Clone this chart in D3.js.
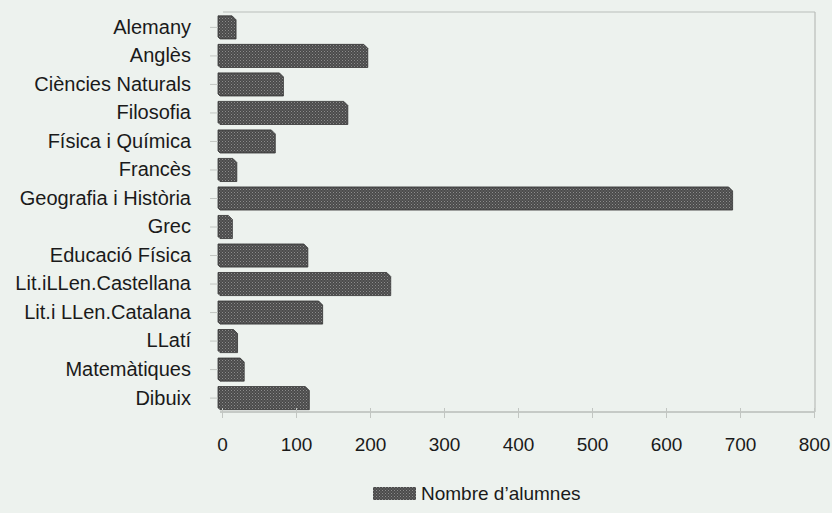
<!DOCTYPE html>
<html>
<head>
<meta charset="utf-8">
<script src="https://cdn.jsdelivr.net/npm/d3@7"></script>
<style>
  body { margin: 0; background: #edf2ee; }
  svg { display: block; }
  svg text { font-family: "Liberation Sans", Arial, Helvetica, "DejaVu Sans", sans-serif !important; fill: #1a1a1a; }
</style>
</head>
<body>
<script>
// subjects and number of students
var subjects = ["Alemany", "Anglès", "Ciències Naturals", "Filosofia", "Física i Química",
  "Francès", "Geografia i Història", "Grec", "Educació Física", "Lit.iLLen.Castellana",
  "Lit.i LLen.Catalana", "LLatí", "Matemàtiques", "Dibuix"];
var alumnes = [19, 197, 83, 170, 72, 20, 690, 14, 116, 228, 136, 21, 30, 118];
var xTicks = [0, 100, 200, 300, 400, 500, 600, 700, 800];
var legendLabel = "Nombre d\u2019alumnes";

var width = 832, height = 513;
var margin = { left: 222, right: 18, top: 13, bottom: 101 };

var svg = d3.select("body").append("svg")
  .attr("width", width)
  .attr("height", height);

// dotted dark fill like the printed bars
var defs = svg.append("defs");
var pat = defs.append("pattern")
  .attr("id", "dots")
  .attr("width", 3).attr("height", 3)
  .attr("patternUnits", "userSpaceOnUse");
pat.append("rect").attr("width", 3).attr("height", 3).attr("fill", "#4b4b4b");
pat.append("rect").attr("width", 1).attr("height", 1).attr("fill", "#8c8c8c");
pat.append("rect").attr("x", 1.5).attr("y", 1.5).attr("width", 1).attr("height", 1).attr("fill", "#7a7a7a");

var x = d3.scaleLinear()
  .domain([0, 800])
  .range([margin.left, width - margin.right]);

var y = d3.scaleBand()
  .domain(subjects)
  .range([margin.top, height - margin.bottom + 0.5])
  .paddingInner(0.19)
  .paddingOuter(0.1);

// frame: top and right lines
svg.append("line")
  .attr("x1", x(0) + 1).attr("x2", x(800) + 1)
  .attr("y1", 12).attr("y2", 12)
  .attr("stroke", "#b9bdb9").attr("stroke-width", 1.2);
svg.append("line")
  .attr("x1", x(800) + 1).attr("x2", x(800) + 1)
  .attr("y1", 12).attr("y2", 412)
  .attr("stroke", "#b9bdb9").attr("stroke-width", 1.2);

// bars with a clipped top-right corner
svg.selectAll("path.bar").data(subjects)
  .enter()
  .append("path")
  .attr("class", "bar")
  .attr("d", function(d, i) {
    var x0 = x(0) - 4, x1 = x(alumnes[i]), y0 = y(d), h = y.bandwidth(), c = 4;
    return "M" + x0 + "," + y0 + " L" + (x1 - c) + "," + y0 + " L" + x1 + "," + (y0 + c) +
      " L" + x1 + "," + (y0 + h) + " L" + (x0 + 2) + "," + (y0 + h) + " L" + x0 + "," + (y0 + h - 2) + " Z";
  })
  .attr("fill", "url(#dots)")
  .attr("stroke", "#333")
  .attr("stroke-width", 0.8);

// category axis (faint ticks, no line)
var yAxis = svg.append("g")
  .attr("transform", "translate(" + (x(0) - 4) + ",0)")
  .call(d3.axisLeft(y).tickSize(8).tickPadding(20));
yAxis.attr("font-family", null).attr("font-size", "20px");
yAxis.select(".domain").remove();
yAxis.selectAll(".tick line").attr("stroke", "#c2c6c2");
yAxis.selectAll(".tick text").attr("fill", "#1a1a1a").attr("dx", "1");

// value axis
var xAxis = svg.append("g")
  .attr("transform", "translate(0,412)")
  .call(d3.axisBottom(x).tickValues(xTicks).tickSize(6).tickPadding(20));
xAxis.attr("font-family", null).attr("font-size", "19px");
xAxis.select(".domain").attr("stroke", "#9ea29e").attr("d", "M" + (x(0) - 2) + ",0H" + (x(800) + 1));
xAxis.selectAll(".tick line").attr("stroke", "#c2c6c2").attr("y1", -4);
xAxis.selectAll(".tick text").attr("fill", "#1a1a1a");

// legend
var legend = svg.append("g").attr("transform", "translate(373,487)");
legend.append("rect")
  .attr("width", 43).attr("height", 13)
  .attr("fill", "url(#dots)");
legend.append("text")
  .attr("x", 48).attr("y", 13)
  .attr("font-size", "19px")
  .text(legendLabel);
</script>
</body>
</html>
